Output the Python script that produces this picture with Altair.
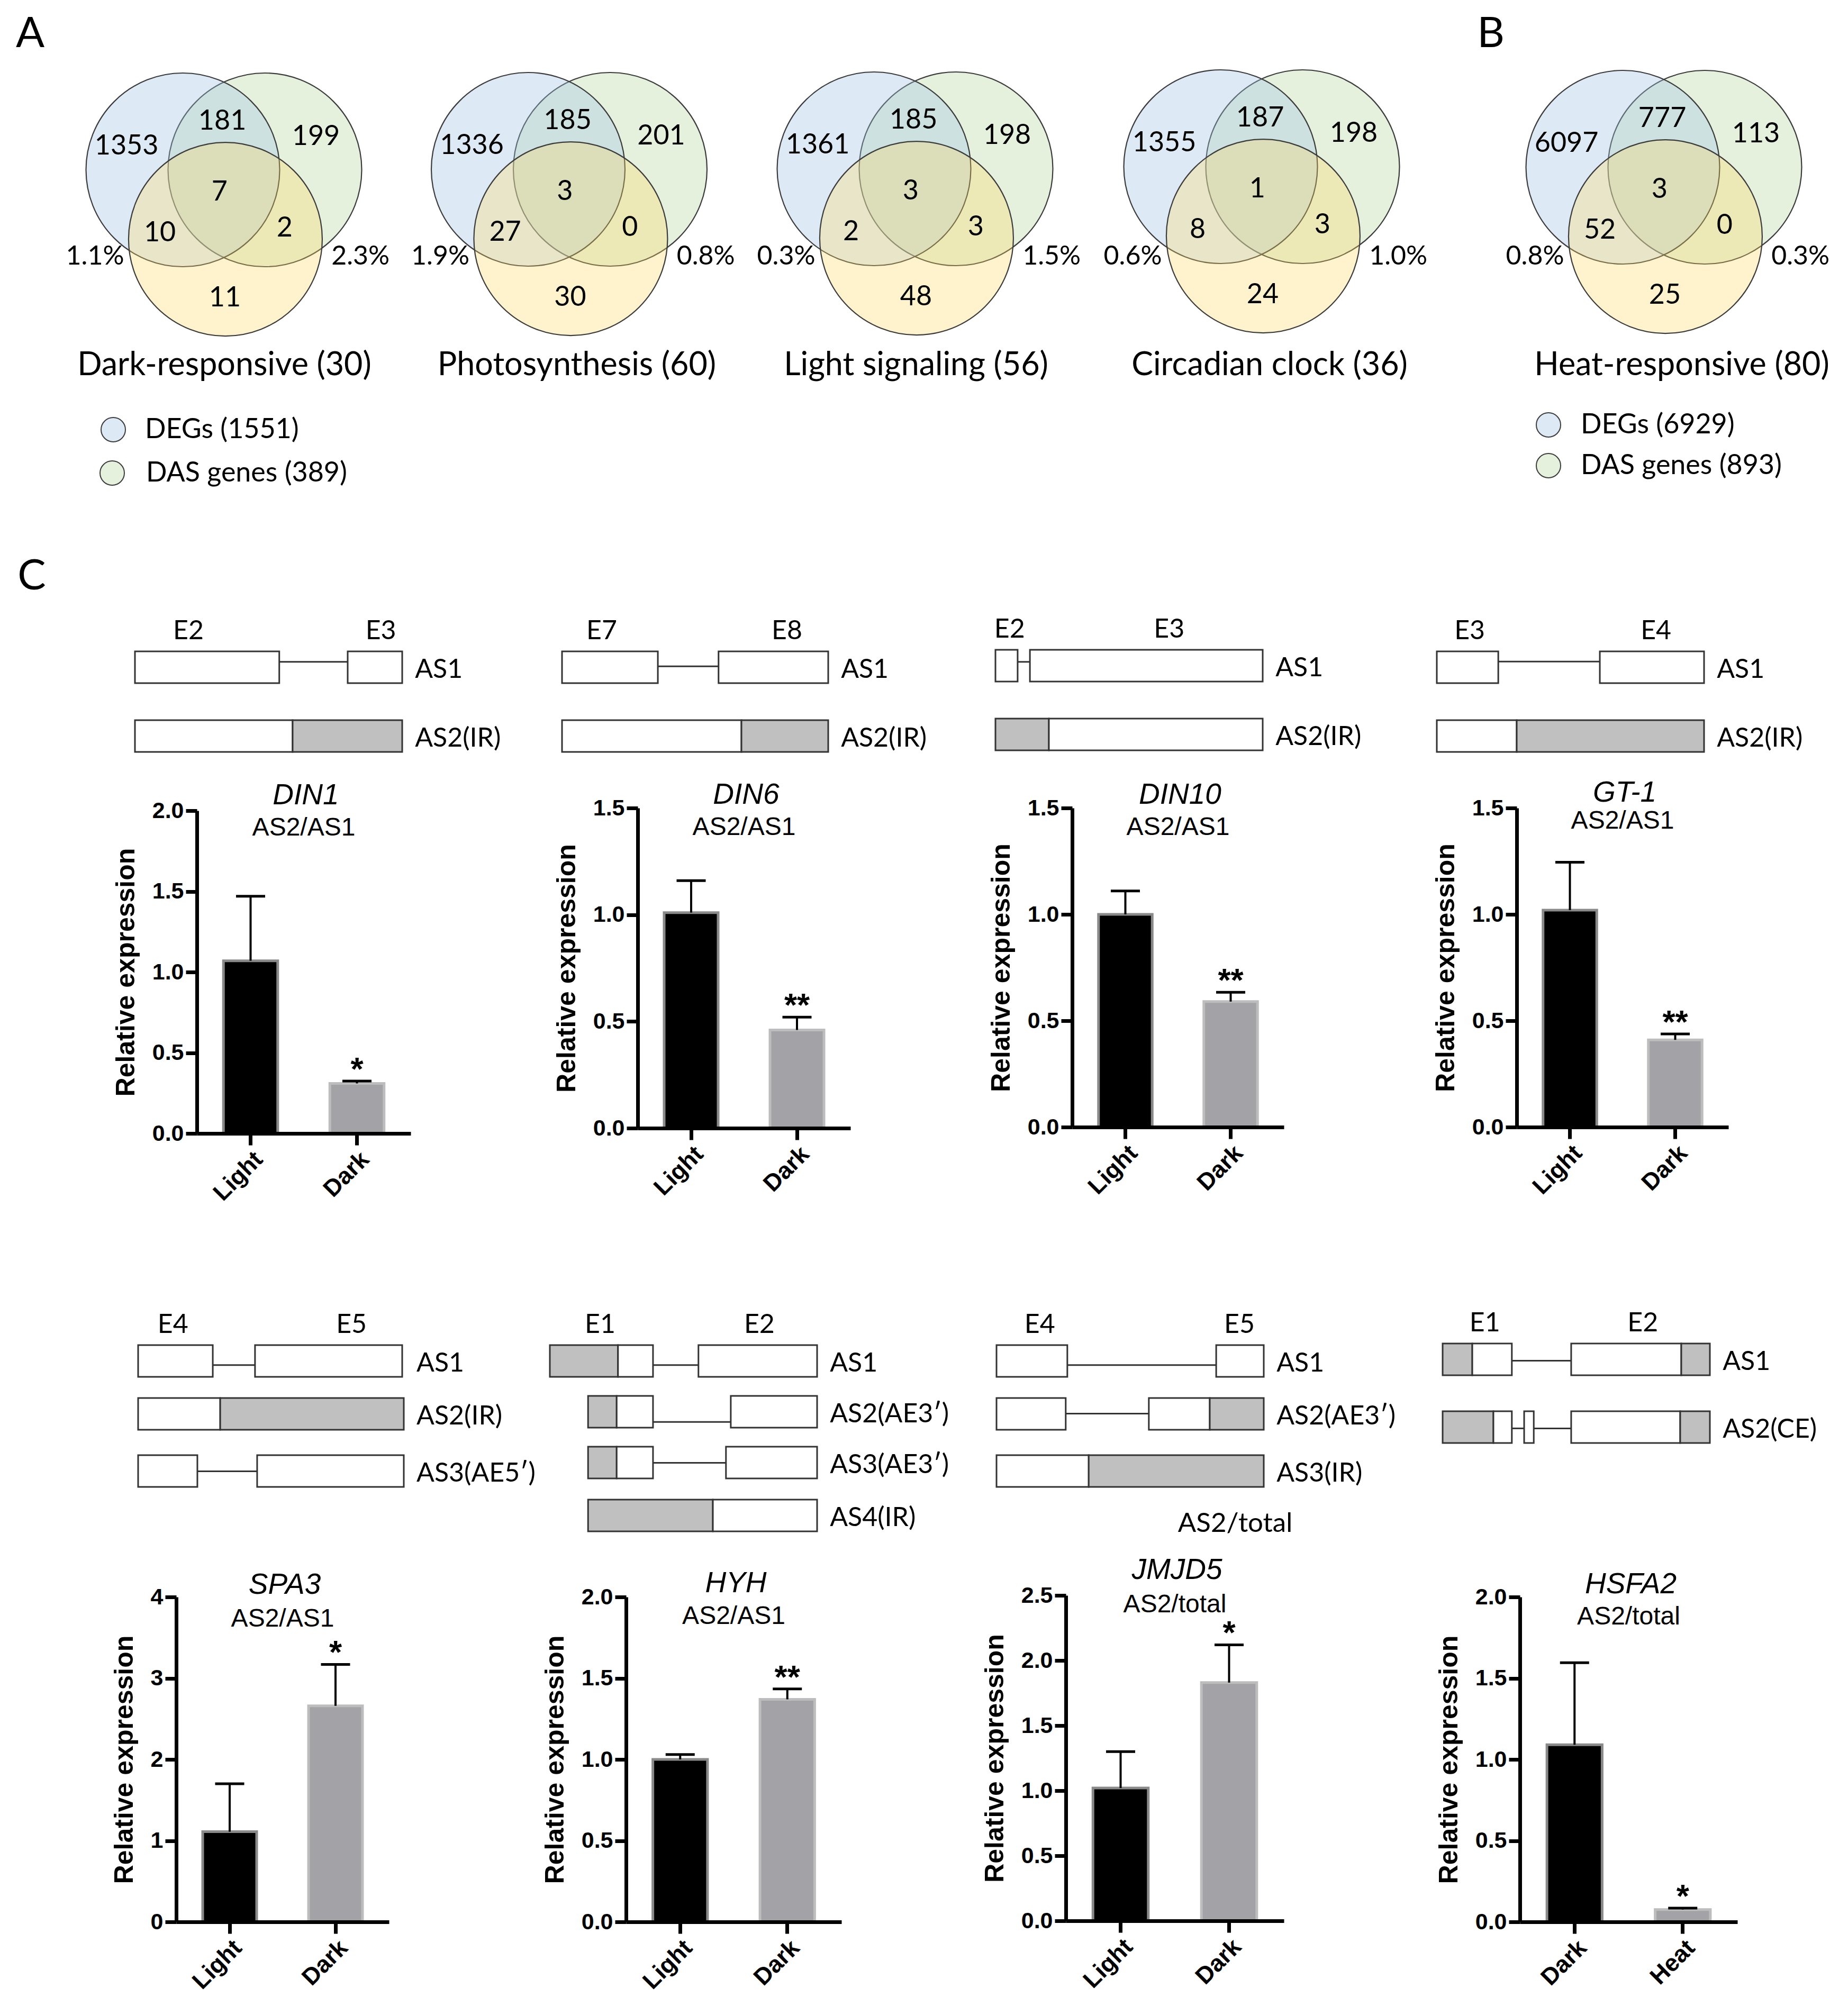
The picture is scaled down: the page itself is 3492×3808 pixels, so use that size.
import altair as alt
import pandas as pd

# ============================ DATA ============================
venn_titles = ["Dark-responsive (30)", "Photosynthesis (60)", "Light signaling (56)",
               "Circadian clock (36)", "Heat-responsive (80)"]
venn_deg_only = [1353, 1336, 1361, 1355, 6097]
venn_deg_das = [181, 185, 185, 187, 777]
venn_das_only = [199, 201, 198, 198, 113]
venn_all_three = [7, 3, 3, 1, 3]
venn_deg_set = [10, 27, 2, 8, 52]
venn_das_set = [2, 0, 3, 3, 0]
venn_set_only = [11, 30, 48, 24, 25]
venn_pct_deg = ["1.1%", "1.9%", "0.3%", "0.6%", "0.8%"]
venn_pct_das = ["2.3%", "0.8%", "1.5%", "1.0%", "0.3%"]
legend_dark = ["DEGs (1551)", "DAS genes (389)"]
legend_heat = ["DEGs (6929)", "DAS genes (893)"]
panel_letters = ["A", "B", "C"]

gene_names = ["DIN1", "DIN6", "DIN10", "GT-1", "SPA3", "HYH", "JMJD5", "HSFA2"]
ratio_labels = ["AS2/AS1"] * 6 + ["AS2/total"] * 2
conditions = [["Light", "Dark"]] * 7 + [["Dark", "Heat"]]
mean_values = [[1.07, 0.31], [1.01, 0.46], [1.0, 0.59], [1.02, 0.41],
               [1.11, 2.66], [1.0, 1.37], [1.02, 1.83], [1.09, 0.076]]
error_tops = [[1.47, 0.325], [1.16, 0.52], [1.11, 0.634], [1.245, 0.438],
              [1.70, 3.17], [1.03, 1.434], [1.30, 2.12], [1.595, 0.085]]
signif = ["*", "**", "**", "**", "*", "**", "*", "*"]
y_max = [2.0, 1.5, 1.5, 1.5, 4, 2.0, 2.5, 2.0]
y_step = [0.5, 0.5, 0.5, 0.5, 1, 0.5, 0.5, 0.5]

# gene models: segments (start, end, kind) in relative gene units 0-100
iso_din1 = ["AS1", "AS2(IR)"]
seg_din1 = [[(0, 54, "exon"), (54, 79.6, "intron"), (79.6, 100, "exon")],
            [(0, 59, "exon"), (59, 100, "shaded")]]
exon_din1 = [("E2", 20), ("E3", 92)]

iso_din6 = ["AS1", "AS2(IR)"]
seg_din6 = [[(0, 36, "exon"), (36, 58.8, "intron"), (58.8, 100, "exon")],
            [(0, 67.4, "exon"), (67.4, 100, "shaded")]]
exon_din6 = [("E7", 14.9), ("E8", 84.5)]

iso_din10 = ["AS1", "AS2(IR)"]
seg_din10 = [[(0, 8.3, "exon"), (8.3, 12.9, "intron"), (12.9, 100, "exon")],
             [(0, 20, "shaded"), (20, 100, "exon")]]
exon_din10 = [("E2", 5.3), ("E3", 65)]

iso_gt1 = ["AS1", "AS2(IR)"]
seg_gt1 = [[(0, 23, "exon"), (23, 61, "intron"), (61, 100, "exon")],
           [(0, 29.9, "exon"), (29.9, 100, "shaded")]]
exon_gt1 = [("E3", 12.3), ("E4", 82)]

iso_spa3 = ["AS1", "AS2(IR)", "AS3(AE5\u2032)"]
seg_spa3 = [[(0, 28.1, "exon"), (28.1, 44, "intron"), (44, 99.4, "exon")],
            [(0, 30.9, "exon"), (30.9, 100, "shaded")],
            [(0, 22.3, "exon"), (22.3, 44.8, "intron"), (44.8, 100, "exon")]]
exon_spa3 = [("E4", 13.1), ("E5", 80.3)]

iso_hyh = ["AS1", "AS2(AE3\u2032)", "AS3(AE3\u2032)", "AS4(IR)"]
seg_hyh = [[(0, 25.5, "shaded"), (25.5, 38.6, "exon"), (38.6, 55.6, "intron"), (55.6, 100, "exon")],
           [(14.3, 25, "shaded"), (25, 38.6, "exon"), (38.6, 67.7, "intron"), (67.7, 100, "exon")],
           [(14.3, 25, "shaded"), (25, 38.6, "exon"), (38.6, 65.9, "intron"), (65.9, 100, "exon")],
           [(14.3, 61, "shaded"), (61, 100, "exon")]]
exon_hyh = [("E1", 18.8), ("E2", 78.4)]

iso_jmjd5 = ["AS1", "AS2(AE3\u2032)", "AS3(IR)"]
seg_jmjd5 = [[(0, 26.5, "exon"), (26.5, 82.2, "intron"), (82.2, 100, "exon")],
             [(0, 25.9, "exon"), (25.9, 57, "intron"), (57, 79.8, "exon"), (79.8, 100, "shaded")],
             [(0, 34.5, "exon"), (34.5, 100, "shaded")]]
exon_jmjd5 = [("E4", 16.2), ("E5", 90.9)]
note_jmjd5 = "AS2/total"

iso_hsfa2 = ["AS1", "AS2(CE)"]
seg_hsfa2 = [[(0, 11.1, "shaded"), (11.1, 25.9, "exon"), (25.9, 48.1, "intron"),
              (48.1, 89.3, "exon"), (89.3, 100, "shaded")],
             [(0, 19, "shaded"), (19, 25.9, "exon"), (25.9, 30.5, "intron"), (30.5, 34.1, "exon"),
              (34.1, 48.1, "intron"), (48.1, 88.9, "exon"), (88.9, 100, "shaded")]]
exon_hsfa2 = [("E1", 15.8), ("E2", 74.9)]

gene_models = [(iso_din1, seg_din1, exon_din1), (iso_din6, seg_din6, exon_din6),
               (iso_din10, seg_din10, exon_din10), (iso_gt1, seg_gt1, exon_gt1),
               (iso_spa3, seg_spa3, exon_spa3), (iso_hyh, seg_hyh, exon_hyh),
               (iso_jmjd5, seg_jmjd5, exon_jmjd5), (iso_hsfa2, seg_hsfa2, exon_hsfa2)]

# ============================ LAYOUT / STYLE ============================
OFF = 8
W, H = 3476, 3784


def px(v):
    return v - OFF


SANS = "Lato"
HELV = "Liberation Sans"
INK = "#000000"
EDGE = "#333333"
VEDGE = "#3c3c3c"
BLUE, GREEN, YELLOW = "#9dc3e6", "#a9d18e", "#ffd966"

R = 183.0
VENN_CX = [423, 1075.5, 1729, 2384, 3144]
VENN_CY = [321, 320, 319, 315, 316]
TITLE_X = [424, 1090, 1731, 2399, 3178]
TITLE_Y = 691
PCT_Y = 485
CIRCLES_UV = [(0.4235, 0.0), (-0.4235, 0.0), (0.016, 0.716)]   # green, blue, yellow
CIRCLE_FILLS = [GREEN, BLUE, YELLOW]
CIRCLE_ALPHA = [0.30, 0.35, 0.32]
REGION_UV = [(-1.005, -0.246), (-0.016, -0.503), (0.951, -0.344), (-0.044, 0.230),
             (-0.661, 0.650), (0.628, 0.601), (0.011, 1.322)]
LEGEND_POS = {0: [(214, 812, 274), (212, 894, 276)], 4: [(2926, 803, 2987), (2926, 880, 2987)]}
LETTER_POS = [(57, 65), (2817, 65), (60, 1090)]

GENE_X = [(255, 760), (1062, 1565), (1881, 2386), (2715, 3220),
          (261, 763), (1039, 1544), (1883, 2388), (2726, 3231)]
GENE_TOP = [1231] * 4 + [2542] * 4
GENE_ROWS = [[0, 130], [0, 130], [-3, 127], [0, 130],
             [0, 100, 208], [0, 96, 192, 292], [0, 100, 208], [-3, 125]]
LINE_FRAC = [[0.33, 0.5], [0.47, 0.5], [0.38, 0.5], [0.32, 0.5],
             [0.63, 0.5, 0.51], [0.63, 0.82, 0.51, 0.5], [0.63, 0.49, 0.5], [0.54, 0.54]]
BOX_H = 60

BAR_AX = [372, 1205, 2026, 2866, 333, 1183, 2014, 2872]
BAR_XE = [776, 1607, 2426, 3266, 735, 1590, 2426, 3283]
BAR_YT = [1532, 1527, 1527, 1527, 3018, 3018, 3015, 3018]
BAR_YZ = [2142, 2132, 2130, 2130, 3632, 3632, 3630, 3632]
NAME_Y = [1503, 1502, 1502, 1498, 2995, 2992, 2967, 2994]
SUB_Y = [1565, 1564, 1564, 1552, 3060, 3055, 3033, 3056]
BAR_FILLS = ["#000000", "#a3a3a7"]
BAR_EDGES = ["#8a8a8a", "#bdbdbd"]


# ============================ BUILDERS ============================
def letters_units():
    sx = alt.Scale(domain=[0, 3492], range=[px(0), px(3492)], nice=False, zero=False)
    sy = alt.Scale(domain=[0, 3808], range=[px(0), px(3808)], nice=False, zero=False)
    df = pd.DataFrame({"t": panel_letters,
                       "x": [p[0] for p in LETTER_POS], "y": [p[1] for p in LETTER_POS]})
    return [alt.Chart(df).mark_text(font=SANS, fontSize=80, color=INK).encode(
        x=alt.X("x:Q", scale=sx, axis=None), y=alt.Y("y:Q", scale=sy, axis=None), text="t:N")]


def venn_units(i):
    cx, cy = VENN_CX[i], VENN_CY[i]
    sx = alt.Scale(domain=[-3, 3], range=[px(cx - 3 * R), px(cx + 3 * R)], nice=False, zero=False)
    sy = alt.Scale(domain=[-2, 4], range=[px(cy - 2 * R), px(cy + 4 * R)], nice=False, zero=False)
    X = alt.X("u:Q", scale=sx, axis=None)
    Y = alt.Y("v:Q", scale=sy, axis=None)

    circ = pd.DataFrame({"u": [c[0] for c in CIRCLES_UV], "v": [c[1] for c in CIRCLES_UV],
                         "fill": CIRCLE_FILLS, "a": CIRCLE_ALPHA})
    circles = alt.Chart(circ).mark_point(shape="circle", filled=True, size=4 * R * R,
                                          stroke=VEDGE, strokeWidth=2.2, opacity=1).encode(
        x=X, y=Y, fill=alt.Fill("fill:N", scale=None), fillOpacity=alt.FillOpacity("a:Q", scale=None))

    counts = [venn_deg_only[i], venn_deg_das[i], venn_das_only[i], venn_all_three[i],
              venn_deg_set[i], venn_das_set[i], venn_set_only[i]]
    reg = pd.DataFrame({"u": [p[0] for p in REGION_UV], "v": [p[1] for p in REGION_UV],
                        "t": [str(c) for c in counts]})
    regions = alt.Chart(reg).mark_text(font=SANS, fontSize=52, color=INK).encode(x=X, y=Y, text="t:N")

    pv = (PCT_Y - cy) / R
    pl = alt.Chart(pd.DataFrame({"u": [-1.03], "v": [pv], "t": [venn_pct_deg[i]]})).mark_text(
        font=SANS, fontSize=50, color=INK, align="right").encode(x=X, y=Y, text="t:N")
    pr = alt.Chart(pd.DataFrame({"u": [1.11], "v": [pv], "t": [venn_pct_das[i]]})).mark_text(
        font=SANS, fontSize=50, color=INK, align="left").encode(x=X, y=Y, text="t:N")

    tdf = pd.DataFrame({"u": [(TITLE_X[i] - cx) / R], "v": [(TITLE_Y - cy) / R], "t": [venn_titles[i]]})
    title = alt.Chart(tdf).mark_text(font=SANS, fontSize=61, color=INK).encode(x=X, y=Y, text="t:N")

    parts = [circles, regions, pl, pr, title]
    if i in LEGEND_POS:
        labels = legend_dark if i == 0 else legend_heat
        pos = LEGEND_POS[i]
        ldf = pd.DataFrame({"u": [(p[0] - cx) / R for p in pos], "v": [(p[1] - cy) / R for p in pos],
                            "fill": [BLUE, GREEN], "a": [0.35, 0.30]})
        lc = alt.Chart(ldf).mark_point(shape="circle", filled=True, size=46 * 46, stroke=VEDGE,
                                       strokeWidth=2, opacity=1).encode(
            x=X, y=Y, fill=alt.Fill("fill:N", scale=None), fillOpacity=alt.FillOpacity("a:Q", scale=None))
        tdf2 = pd.DataFrame({"u": [(p[2] - cx) / R for p in pos], "v": [(p[1] - cy) / R for p in pos],
                             "t": labels})
        lt = alt.Chart(tdf2).mark_text(font=SANS, fontSize=52, color=INK, align="left").encode(
            x=X, y=Y, text="t:N")
        parts += [lc, lt]
    return parts


def gene_units(g):
    isos, segs, exons = gene_models[g]
    x0, x1 = GENE_X[g]
    top = GENE_TOP[g]
    rows = GENE_ROWS[g]
    sx = alt.Scale(domain=[0, 100], range=[px(x0), px(x1)], nice=False, zero=False)
    sy = alt.Scale(domain=[0, 500], range=[px(top), px(top + 500)], nice=False, zero=False)
    rect_rows, line_rows, lab_rows = [], [], []
    for r, iso in enumerate(isos):
        y0 = rows[r]
        for a, b, kind in segs[r]:
            if kind == "intron":
                line_rows.append({"a": a, "b": b, "y": y0 + LINE_FRAC[g][r] * BOX_H})
            else:
                rect_rows.append({"a": a, "b": b, "y0": y0, "y1": y0 + BOX_H,
                                  "fill": "#ffffff" if kind == "exon" else "#c0c0c0"})
        lab_rows.append({"u": 104.8, "v": y0 + BOX_H / 2 + 5, "t": iso})
    parts = []
    if line_rows:
        parts.append(alt.Chart(pd.DataFrame(line_rows)).mark_rule(color=EDGE, strokeWidth=3).encode(
            x=alt.X("a:Q", scale=sx, axis=None), x2="b:Q", y=alt.Y("y:Q", scale=sy, axis=None)))
    parts.append(alt.Chart(pd.DataFrame(rect_rows)).mark_rect(stroke=EDGE, strokeWidth=3, opacity=1).encode(
        x=alt.X("a:Q", scale=sx, axis=None), x2="b:Q",
        y=alt.Y("y0:Q", scale=sy, axis=None), y2="y1:Q", fill=alt.Fill("fill:N", scale=None)))
    edf = pd.DataFrame({"u": [e[1] for e in exons], "v": [rows[0] - 38] * len(exons), "t": [e[0] for e in exons]})
    parts.append(alt.Chart(edf).mark_text(font=SANS, fontSize=50, color=INK).encode(
        x=alt.X("u:Q", scale=sx, axis=None), y=alt.Y("v:Q", scale=sy, axis=None), text="t:N"))
    parts.append(alt.Chart(pd.DataFrame(lab_rows)).mark_text(font=SANS, fontSize=50, color=INK, align="left").encode(
        x=alt.X("u:Q", scale=sx, axis=None), y=alt.Y("v:Q", scale=sy, axis=None), text="t:N"))
    if gene_names[g] == "JMJD5":
        ndf = pd.DataFrame({"u": [89.3], "v": [338], "t": [note_jmjd5]})
        parts.append(alt.Chart(ndf).mark_text(font=SANS, fontSize=51, color=INK).encode(
            x=alt.X("u:Q", scale=sx, axis=None), y=alt.Y("v:Q", scale=sy, axis=None), text="t:N"))
    return parts


def bar_units(k):
    cats = conditions[k]
    sx = alt.Scale(type="band", domain=cats, range=[px(BAR_AX[k]), px(BAR_XE[k])],
                   paddingInner=0.49, paddingOuter=0.25)
    sy = alt.Scale(domain=[0, y_max[k]], range=[px(BAR_YZ[k]), px(BAR_YT[k])], nice=False, zero=False)
    nt = int(round(y_max[k] / y_step[k]))
    tick_vals = [round(j * y_step[k], 3) for j in range(nt + 1)]
    fmt = "d" if y_step[k] >= 1 else ".1f"
    yax = alt.Axis(orient="left", offset=-px(BAR_AX[k]), values=tick_vals, format=fmt, grid=False,
                   domainColor="black", domainWidth=7, tickColor="black", tickWidth=7, tickSize=21,
                   labelFont=HELV, labelFontSize=43, labelFontWeight="bold", labelColor="black",
                   labelPadding=4, labelFlush=False, labelOverlap=False,
                   title="Relative expression", titleFont=HELV, titleFontSize=50,
                   titleFontWeight="bold", titleColor="black", titlePadding=24, zindex=1)
    xax = alt.Axis(orient="bottom", offset=px(BAR_YZ[k]) - H, grid=False, labelAngle=-45,
                   domainColor="black", domainWidth=7, tickColor="black", tickWidth=7, tickSize=22,
                   labelFont=HELV, labelFontSize=45, labelFontWeight="bold", labelColor="black",
                   labelPadding=4, title=None, zindex=1)
    df = pd.DataFrame({"cond": cats, "mean": mean_values[k], "err": error_tops[k],
                       "fill": BAR_FILLS, "edge": BAR_EDGES, "star": ["", signif[k]]})
    XN = alt.X("cond:N", scale=sx, axis=None, sort=None)
    bars = alt.Chart(df).mark_bar(strokeWidth=5, opacity=1).encode(
        x=alt.X("cond:N", scale=sx, axis=xax, sort=None),
        y=alt.Y("mean:Q", scale=sy, axis=yax),
        fill=alt.Fill("fill:N", scale=None), stroke=alt.Stroke("edge:N", scale=None))
    rules = alt.Chart(df).mark_rule(color="black", strokeWidth=4, opacity=1).encode(
        x=XN, y=alt.Y("mean:Q", scale=sy, axis=None), y2="err:Q")
    caps = alt.Chart(df).mark_tick(color="black", thickness=5, size=55, opacity=1, orient="horizontal").encode(
        x=XN, y=alt.Y("err:Q", scale=sy, axis=None))
    stars = alt.Chart(df.iloc[1:]).mark_text(font=HELV, fontWeight="bold", fontSize=62, color=INK,
                                             baseline="alphabetic", dy=-2).encode(
        x=XN, y=alt.Y("err:Q", scale=sy, axis=None), text="star:N")
    cxm = (BAR_AX[k] + BAR_XE[k]) / 2.0
    name = alt.Chart(pd.DataFrame({"t": [gene_names[k]]})).mark_text(
        font=HELV, fontStyle="italic", fontSize=55, color=INK).encode(
        x=alt.value(px(cxm + 4)), y=alt.value(px(NAME_Y[k])), text="t:N")
    sub = alt.Chart(pd.DataFrame({"t": [ratio_labels[k]]})).mark_text(
        font=HELV, fontSize=48, color=INK).encode(
        x=alt.value(px(cxm)), y=alt.value(px(SUB_Y[k])), text="t:N")
    return [bars, rules, caps, stars, name, sub]


units = letters_units()
for i in range(5):
    units += venn_units(i)
for g in range(8):
    units += gene_units(g)
for k in range(8):
    units += bar_units(k)

chart = alt.layer(*units).resolve_scale(x="independent", y="independent").properties(
    width=W, height=H, padding=0, background="white"
).configure_view(stroke=None)

chart.save("out.html", embed_options={"renderer": "svg", "actions": False})
